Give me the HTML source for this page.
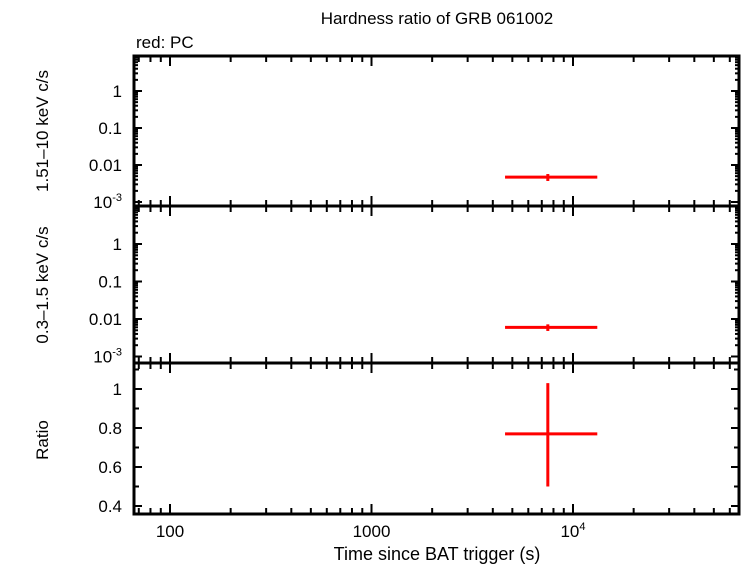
<!DOCTYPE html>
<html><head><meta charset="utf-8"><style>
body{margin:0;background:#fff}
svg{display:block;font-family:"Liberation Sans",sans-serif}
</style></head><body>
<svg id="c" width="742" height="566"></svg>
<script>
const hardTime=[7500], hardTimeLo=[4600], hardTimeHi=[13200];
const hardRate=[0.0047], hardErr=[0.001];
const softRate=[0.006], softErr=[0.0012];
const ratioVal=[0.77], ratioLo=[0.50], ratioHi=[1.03];
const xTickVals=[100,1000,10000];
const xTickLabels=["100","1000","10^4"];
const logYTicks=[1,0.1,0.01,0.001];
const logYLabels=["1","0.1","0.01","10^-3"];
const ratioTicks=[0.4,0.6,0.8,1];
const ratioLabels=["0.4","0.6","0.8","1"];

const NS="http://www.w3.org/2000/svg";
const svg=document.getElementById('c');
const L=134,R=739;
const X=t=>170+(Math.log10(t)-2)*201.5;
function el(tag,attrs,parent){const e=document.createElementNS(NS,tag);for(const k in attrs)e.setAttribute(k,attrs[k]);(parent||svg).appendChild(e);return e;}
function txt(s,x,y,anchor,size,g){
  const t=el('text',{x:x,y:y,'text-anchor':anchor,'font-size':size||17,fill:'#000'},g);
  if(s.includes('^')){const [a,b]=s.split('^');t.textContent=a;const sp=el('tspan',{dy:-7,'font-size':11},t);sp.textContent=b;}
  else t.textContent=s;
  return t;
}
const panels=[
 {name:'hard-panel',top:56,bot:206,Y:v=>91-Math.log10(v)*37,log:true},
 {name:'soft-panel',top:206,bot:363,Y:v=>244-Math.log10(v)*37.5,log:true},
 {name:'ratio-panel',top:363,bot:514,Y:v=>389+(1-v)*195,log:false}
];
panels.forEach((p,pi)=>{
  const g=el('g',{});
  
  
  el('rect',{x:L,y:p.top,width:R-L,height:p.bot-p.top,fill:'none',stroke:'#000','stroke-width':3},g);
  for(let d=1;d<=4;d++)for(let m=1;m<=9;m++){
    const t=m*Math.pow(10,d);const x=X(t);if(x<L+2||x>R-2)continue;
    const len=m==1?10:6;
    el('line',{x1:x,y1:p.bot,x2:x,y2:p.bot-len,stroke:'#000','stroke-width':2},g);
    el('line',{x1:x,y1:p.top,x2:x,y2:p.top+len,stroke:'#000','stroke-width':2},g);
  }
  if(p.log){
    for(let d=-3;d<=0;d++)for(let m=1;m<=9;m++){
      const v=m*Math.pow(10,d);const y=p.Y(v);if(y<p.top+1||y>p.bot-1)continue;
      const len=m==1?8:4;
      el('line',{x1:L,y1:y,x2:L+len,y2:y,stroke:'#000','stroke-width':2},g);
      el('line',{x1:R,y1:y,x2:R-len,y2:y,stroke:'#000','stroke-width':2},g);
    }
    logYTicks.forEach((v,i)=>txt(logYLabels[i],122,p.Y(v)+6,'end',17,g));
  } else {
    for(let v=0.4;v<=1.11;v+=0.1){const y=p.Y(v);const len=Math.abs(v*10-Math.round(v*5)*2)<0.01?8:5;
      el('line',{x1:L,y1:y,x2:L+len,y2:y,stroke:'#000','stroke-width':2},g);
      el('line',{x1:R,y1:y,x2:R-len,y2:y,stroke:'#000','stroke-width':2},g);}
    ratioTicks.forEach((v,i)=>txt(ratioLabels[i],122,p.Y(v)+6,'end',17,g));
  }
});
function errbar(i,p,v,lo,hi,name){
  const g=el('g',{});
  
  
  el('line',{x1:X(hardTimeLo[i]),y1:p.Y(v),x2:X(hardTimeHi[i]),y2:p.Y(v),stroke:'#f00','stroke-width':3},g);
  el('line',{x1:X(hardTime[i]),y1:p.Y(lo),x2:X(hardTime[i]),y2:p.Y(hi),stroke:'#f00','stroke-width':3},g);
}
hardTime.forEach((t,i)=>{
  errbar(i,panels[0],hardRate[i],hardRate[i]-hardErr[i],hardRate[i]+hardErr[i],'hard-point');
  errbar(i,panels[1],softRate[i],softRate[i]-softErr[i],softRate[i]+softErr[i],'soft-point');
  errbar(i,panels[2],ratioVal[i],ratioLo[i],ratioHi[i],'ratio-point');
});
xTickVals.forEach((v,i)=>{const t=txt(xTickLabels[i],X(v),537,'middle',17);});
let t;
t=txt('Hardness ratio of GRB 061002',437,24,'middle',17);
t=txt('red: PC',136,48,'start',17);
t=txt('Time since BAT trigger (s)',437,560,'middle',18);
function ylab(s,cy,name){const t=el('text',{x:0,y:0,'text-anchor':'middle','font-size':17,transform:`translate(48,${cy}) rotate(-90)`});t.textContent=s;}
ylab('1.51–10 keV c/s',131,'y-axis-title-hard');
ylab('0.3–1.5 keV c/s',285,'y-axis-title-soft');
ylab('Ratio',440,'y-axis-title-ratio');
</script>
</body></html>
